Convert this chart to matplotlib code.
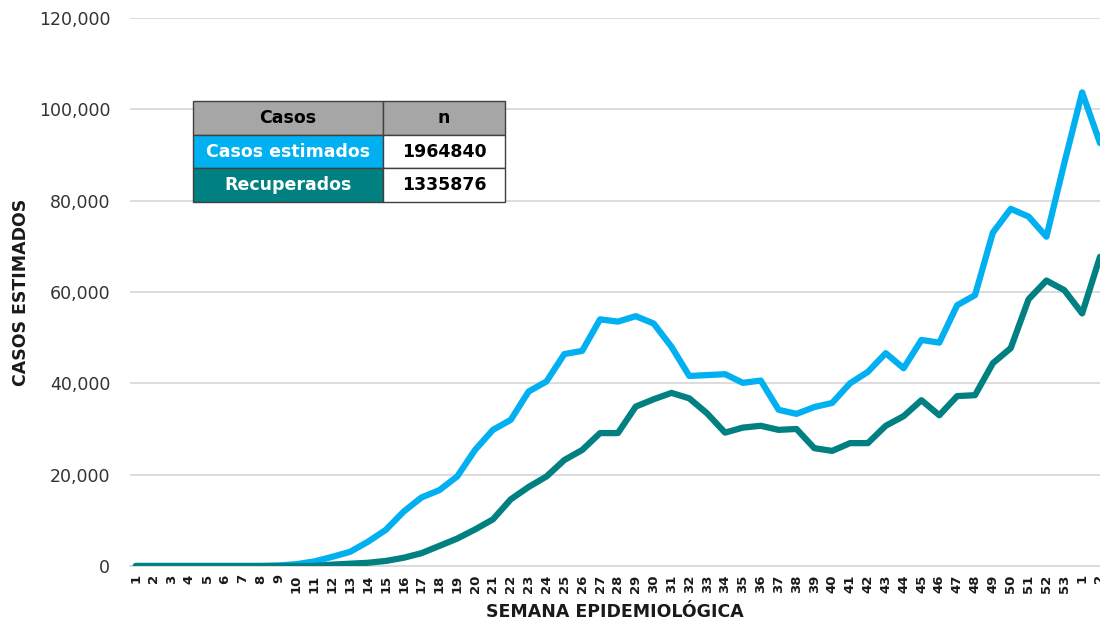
import numpy as np
import matplotlib
matplotlib.use("Agg")
import matplotlib.pyplot as plt

plt.rcParams['font.family'] = ['DejaVu Sans']

semanas = [str(i) for i in range(1, 54)] + ['1', '2']

casos_estimados = [0, 0, 0, 0, 0, 0, 0, 0, 100, 400,
                   1000, 2000, 3100, 5300, 7900, 11900, 15000, 16600, 19600, 25400,
                   29800, 32000, 38200, 40400, 46400, 47100, 54000, 53500, 54700, 53100,
                   48000, 41600, 41800, 42000, 40100, 40600, 34200, 33300, 34800, 35700,
                   40000, 42500, 46600, 43300, 49500, 48900, 57100, 59300, 73000, 78200,
                   76500, 72100, 88200, 103700, 92600]

recuperados = [0, 0, 0, 0, 0, 0, 0, 0, 0, 0,
               0, 300, 500, 700, 1100, 1800, 2800, 4400, 6000, 8000,
               10200, 14600, 17300, 19600, 23200, 25400, 29100, 29100, 34900, 36500,
               37900, 36700, 33400, 29200, 30300, 30700, 29800, 30000, 25800, 25200,
               26900, 26900, 30700, 32800, 36300, 33000, 37200, 37400, 44400, 47700,
               58400, 62500, 60400, 55300, 67700]

tabla_filas = [['Casos', 'n'],
               ['Casos estimados', '1964840'],
               ['Recuperados', '1335876']]

azul = '#00b0f0'
verde = '#008080'

fig = plt.figure(figsize=(11, 6.21), dpi=100)
ax = fig.add_axes([0.118, 0.0886, 0.882, 0.8825])

x = np.arange(1, len(semanas) + 1)
ax.plot(x, casos_estimados, color=azul, lw=4.5, solid_joinstyle='round', solid_capstyle='round', zorder=3)
ax.plot(x, recuperados, color=verde, lw=4.5, solid_joinstyle='round', solid_capstyle='round', zorder=4)

ax.set_xlim(0.664, 54.94)
ax.set_ylim(0, 120000)
ax.set_yticks(np.arange(0, 120001, 20000))
ax.set_yticklabels([f'{v:,}' for v in range(0, 120001, 20000)], fontsize=12.5, color='#333333')
ax.set_xticks(x)
ax.set_xticklabels(semanas, rotation=90, fontsize=9.5, fontweight='bold', color='#1a1a1a')
ax.tick_params(length=0, pad=6)
ax.tick_params(axis='y', pad=14)
ax.grid(axis='y', color='#d9d9d9', lw=1.3)
ax.set_axisbelow(True)
for s in ['top', 'right', 'left']:
    ax.spines[s].set_visible(False)
ax.spines['bottom'].set_color('#d9d9d9')
ax.spines['bottom'].set_linewidth(1.3)

ax.set_xlabel('SEMANA EPIDEMIOLÓGICA', fontsize=12.5, fontweight='bold', color='#1a1a1a', labelpad=7)
ax.set_ylabel('CASOS ESTIMADOS', fontsize=12.5, fontweight='bold', color='#1a1a1a')
ax.yaxis.set_label_coords(-0.103, 0.5)

tabla = ax.table(cellText=tabla_filas, colWidths=[0.609, 0.391],
                 bbox=[0.065, 0.664, 0.3216, 0.184], cellLoc='center')
tabla.auto_set_font_size(False)
fondos = [['#a6a6a6', '#a6a6a6'], [azul, 'white'], [verde, 'white']]
colores_txt = [['black', 'black'], ['white', 'black'], ['white', 'black']]
for (r, c), celda in tabla.get_celld().items():
    celda.set_facecolor(fondos[r][c])
    celda.set_edgecolor('#404040')
    celda.set_linewidth(1)
    celda.get_text().set_color(colores_txt[r][c])
    celda.get_text().set_fontsize(12.5)
    celda.get_text().set_fontweight('bold')
tabla.set_zorder(5)

fig.savefig('out.png', dpi=100)
